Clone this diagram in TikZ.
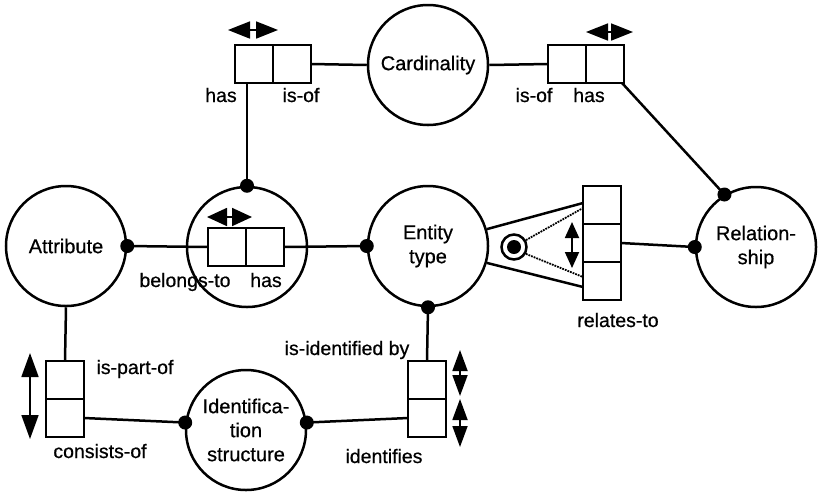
\documentclass[tikz,border=0pt]{standalone}
\usepackage{fontspec}
\setmainfont[FakeBold=0.6]{Liberation Sans}
\usetikzlibrary{positioning, arrows.meta}

\tikzset{
    concept/.style={draw, circle, line width=2.5pt, minimum size=120pt, inner sep=0pt, align=center, font=\fontsize{20}{24}\selectfont},
    cell/.style={draw, rectangle, line width=2.5pt, minimum width=38pt, minimum height=38pt, inner sep=0pt, outer sep=0pt},
    role/.style={anchor=base, inner sep=0pt, font=\fontsize{19.5}{24}\selectfont},
    link/.style={line width=2.5pt},
    joint/.style={fill, circle, inner sep=0pt, minimum size=14pt},
    orderarrow/.style 2 args={line width=1.8pt, {Triangle[length=#1,width=#2]}-{Triangle[length=#1,width=#2]}},
}

\begin{document}
\begin{tikzpicture}[x=1pt, y=-1pt]

    \useasboundingbox (0,0) rectangle (818,491);

    % object types
    \node[concept] (attr) at (66,246) {Attribute};
    \node[concept] (card) at (428,65) {Cardinality};
    \node[concept] (ent) at (428,246) {Entity\\type};
    \node[concept] (rel) at (756,247) {Relation-\\ship};
    \node[concept] (ident) at (246,430) {Identifica-\\tion\\structure};
    \node[concept] (nest) at (247,247) {};

    % role boxes
    \node[cell] (ca1) at (254,64) {};
    \node[cell, right=0pt of ca1] (ca2) {};
    \node[cell] (cb1) at (567,64) {};
    \node[cell, right=0pt of cb1] (cb2) {};
    \node[cell] (bt1) at (227,247) {};
    \node[cell, right=0pt of bt1] (bt2) {};
    \node[cell] (rt1) at (602,205) {};
    \node[cell, below=0pt of rt1] (rt2) {};
    \node[cell, below=0pt of rt2] (rt3) {};
    \node[cell] (po1) at (65,380) {};
    \node[cell, below=0pt of po1] (po2) {};
    \node[cell] (id1) at (427,380) {};
    \node[cell, below=0pt of id1] (id2) {};

    % connections
    \path[draw, link] (attr.east) -- (bt1.west);
    \path[draw, link] (bt2.east) -- (ent.west);
    \path[draw, link] (nest.north) -- (nest.north |- ca1.south);
    \path[draw, link] (ca2.east) -- (card.west);
    \path[draw, link] (card.east) -- (cb1.west);
    \path[draw, link] ([xshift=-2pt]cb2.south east) -- (rel.121);
    \path[draw, link] (rt2.east) -- (rel.west);
    \path[draw, link] (attr.south) -- (po1.north);
    \path[draw, link] (po2.east) -- (ident.173);
    \path[draw, link] (ident.7) -- (id2.west);
    \path[draw, link] (ent.south) -- (id1.north);

    \foreach \p [count=\i] in {attr.east, ent.west, nest.north, rel.121, rel.west, ident.173, ident.7, ent.south} {
        \node[joint] (joint\i) at (\p) {};
    }

    % relates-to with its pick marker
    \path[draw, link] (ent.16) -- ([yshift=2pt]rt1.west);
    \path[draw, link] (ent.-16) -- ([yshift=-6pt]rt3.west);
    \node[draw, circle, line width=2.5pt, minimum size=25pt, inner sep=0pt] (pick) at (514,247) {};
    \node[joint] (pickdot) at (pick) {};
    \path[draw, densely dotted, line width=1.8pt] (pick.30) -- ([yshift=-3pt]rt1.west);
    \path[draw, densely dotted, line width=1.8pt] (pick.-30) -- ([yshift=4pt]rt3.west);

    % orientation arrows
    \path[draw, orderarrow={22pt}{17pt}] (228,30) -- (278,30);
    \path[draw, orderarrow={22pt}{17pt}] (586,32) -- (633,32);
    \path[draw, orderarrow={20pt}{18pt}] (207,217) -- (252,217);
    \path[draw, orderarrow={16pt}{14pt}] (572,222) -- (572,268);
    \path[draw, orderarrow={24pt}{17pt}] (30,353) -- (30,439);
    \path[draw, orderarrow={21pt}{15pt}] (460,350) -- (460,396);
    \path[draw, orderarrow={21pt}{15pt}] (460,399) -- (460,447);

    % role names
    \node[role] (l1) at (221,102) {has};
    \node[role] (l2) at (301,102) {is-of};
    \node[role] (l3) at (534,102) {is-of};
    \node[role] (l4) at (589,102) {has};
    \node[role] (l5) at (185,287) {belongs-to};
    \node[role] (l6) at (266,287) {has};
    \node[role] (l7) at (618,327) {relates-to};
    \node[role] (l8) at (347,355) {is-identified by};
    \node[role] (l9) at (135,374) {is-part-of};
    \node[role] (l10) at (100,458) {consists-of};
    \node[role] (l11) at (384,463) {identifies};

\end{tikzpicture}
\end{document}
